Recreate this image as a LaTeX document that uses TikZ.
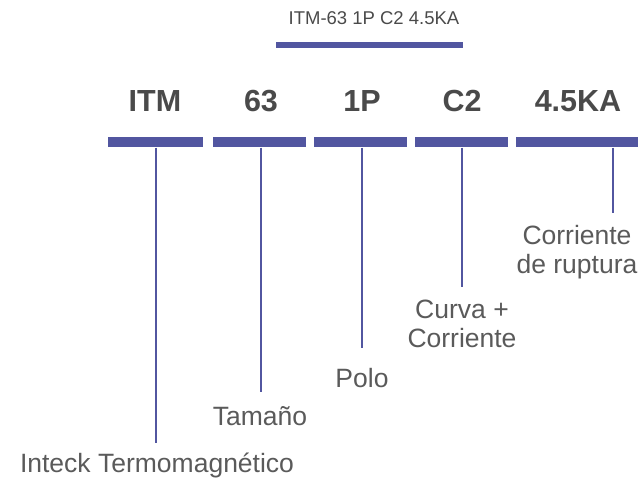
\documentclass[tikz,border=0pt]{standalone}
\usepackage{fontspec}
\setmainfont{Liberation Sans}
\definecolor{barblue}{HTML}{5256A0}
\definecolor{boldgray}{HTML}{4A4A4A}
\definecolor{labgray}{HTML}{5A5A5A}
\begin{document}
\begin{tikzpicture}[x=1pt,y=-1pt,
  bar/.style={fill=barblue,draw=none,inner sep=0pt,minimum height=10pt},
  code/.style={anchor=base,text=boldgray,font=\fontsize{30.5}{30}\selectfont\bfseries,inner sep=0pt},
  lab/.style={anchor=base,text=labgray,font=\fontsize{26.5}{28.5}\selectfont,inner sep=0pt,align=center},
  stem/.style={draw=barblue,line width=2.2pt}]
\useasboundingbox (0,0) rectangle (638,484);
% top caption
\node[anchor=base,text=boldgray,font=\fontsize{18.5}{20}\selectfont,inner sep=0pt] (cap) at (374,24.5) {ITM-63 1P C2 4.5KA};
\node[bar,minimum width=187pt,minimum height=6.5pt] (topbar) at (369.5,45) {};
% codes
\node[code] (cITM) at (155,111.5) {ITM};
\node[code] (c63) at (261,111.5) {63};
\node[code] (c1P) at (362,111.5) {1P};
\node[code] (cC2) at (462,111.5) {C2};
\node[code] (cKA) at (578,111.5) {4.5KA};
% bars
\node[bar,minimum width=95pt] (bITM) at (155.5,142.5) {};
\node[bar,minimum width=93pt] (b63) at (259.5,142.5) {};
\node[bar,minimum width=93pt] (b1P) at (360.5,142.5) {};
\node[bar,minimum width=93pt] (bC2) at (461.5,142.5) {};
\node[bar,minimum width=122pt] (bKA) at (577,142.5) {};
% stem ends
\coordinate (eITM) at (156,443);
\coordinate (e63) at (261,392);
\coordinate (e1P) at (362,348);
\coordinate (eC2) at (462,287);
\coordinate (eKA) at (613,213);
\draw[stem] (bITM.south -| eITM) -- (eITM);
\draw[stem] (b63.south -| e63) -- (e63);
\draw[stem] (b1P.south -| e1P) -- (e1P);
\draw[stem] (bC2.south -| eC2) -- (eC2);
\draw[stem] (bKA.south -| eKA) -- (eKA);
% labels
\node[lab] (lITM) at (157,472) {Inteck Termomagnético};
\node[lab] (l63) at (260,425) {Tamaño};
\node[lab] (l1P) at (362,387) {Polo};
\node[lab] (lC2) at (462,347) {Curva +\\Corriente};
\node[lab] (lKA) at (577,273) {Corriente\\de ruptura};
\end{tikzpicture}
\end{document}
